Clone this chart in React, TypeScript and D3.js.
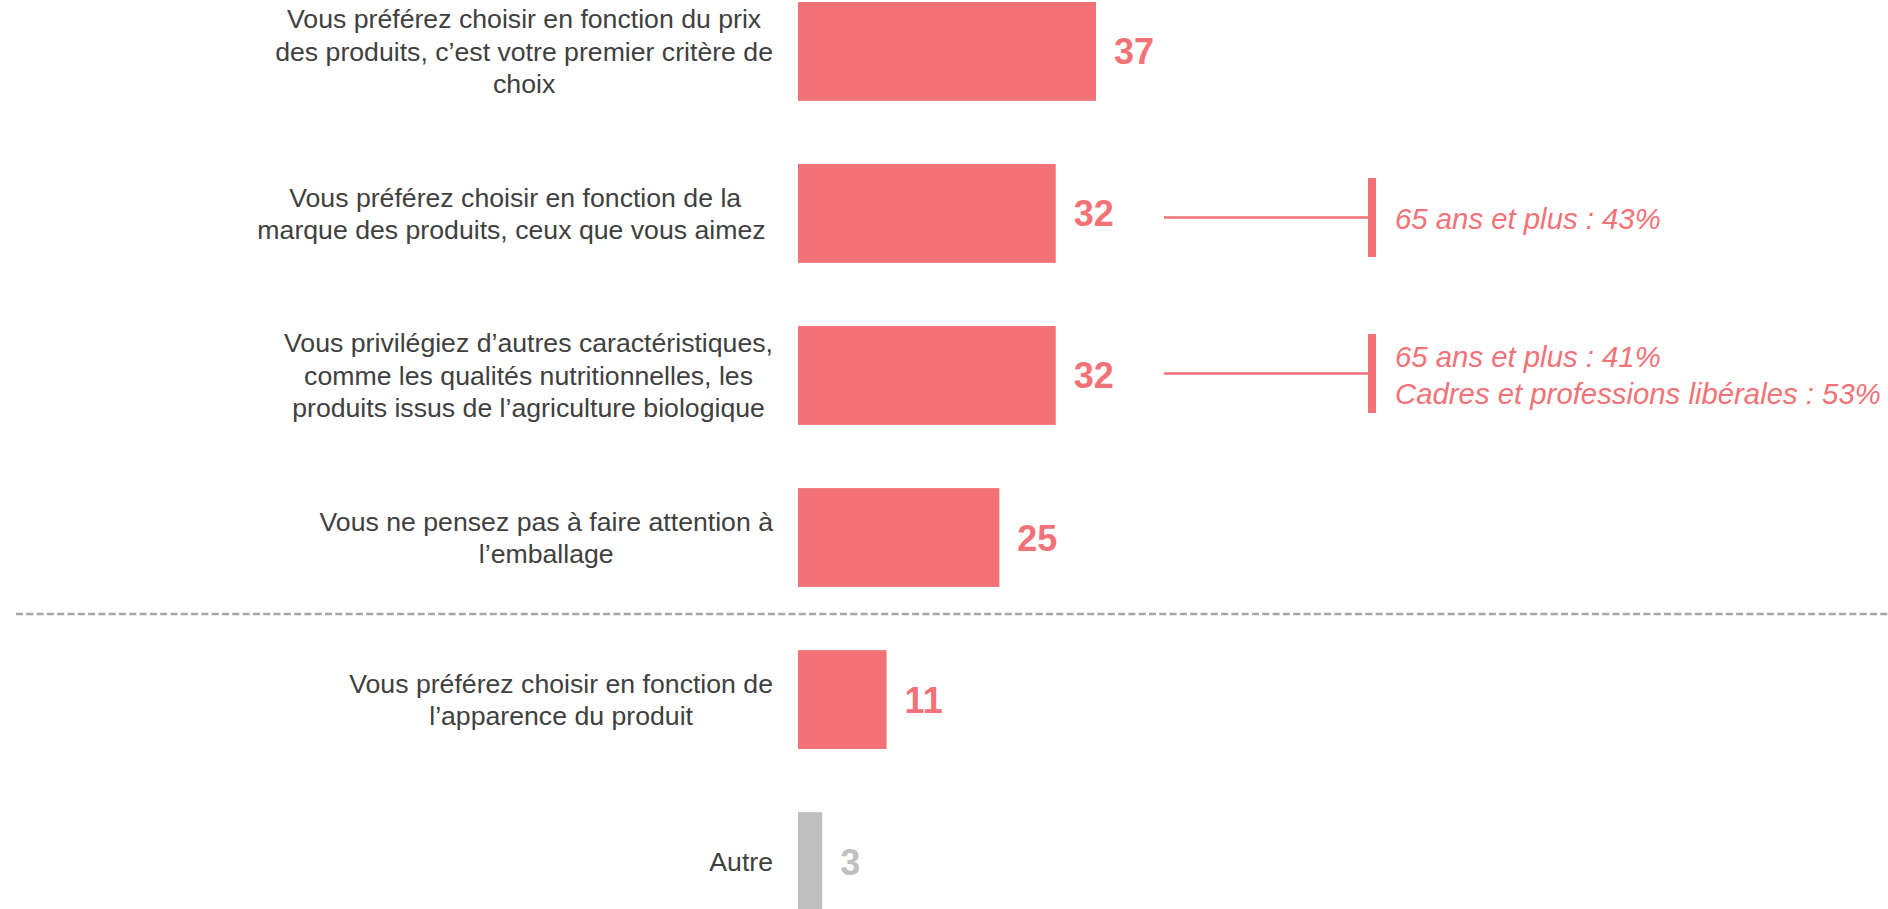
import React, { useEffect, useRef } from 'react';
import * as d3 from 'd3';

// category labels, already broken into lines as in the original slide
const labels: string[][] = [
  ['Vous préférez choisir en fonction du prix', 'des produits, c’est votre premier critère de', 'choix'],
  ['Vous préférez choisir en fonction de la', 'marque des produits, ceux que vous aimez '],
  ['Vous privilégiez d’autres caractéristiques,', 'comme les qualités nutritionnelles, les', 'produits issus de l’agriculture biologique'],
  ['Vous ne pensez pas à faire attention à', 'l’emballage'],
  ['Vous préférez choisir en fonction de', 'l’apparence du produit'],
  ['Autre'],
];
const values = [37, 32, 32, 25, 11, 3];
const isOther = [false, false, false, false, false, true];
// index of the bar -> annotation lines
const notes: { idx: number; lines: string[] }[] = [
  { idx: 1, lines: ['65 ans et plus : 43%'] },
  { idx: 2, lines: ['65 ans et plus : 41%', 'Cadres et professions libérales : 53%'] },
];

const W = 1888, H = 909;
const RED = '#F27277';
const GREY = '#BFBFBF';
const FONT = '"Liberation Sans", Arial, sans-serif';

export default function App() {
  const ref = useRef<SVGSVGElement>(null);

  useEffect(() => {
    document.body.style.margin = '0';
    const svg = d3.select(ref.current);
    svg.selectAll('*').remove();

    const idx = values.map((_, i) => i);
    const y = d3.scaleBand<number>()
      .domain(idx)
      .range([2, 911])
      .paddingInner(0.39)
      .paddingOuter(0);
    const x = d3.scaleLinear().domain([0, 37]).range([798, 1096]);
    const bw = y.bandwidth();
    const cy = (i: number) => (y(i) as number) + bw / 2;

    // bars
    svg.append('g').selectAll('rect').data(idx).join('rect')
      .attr('x', x(0))
      .attr('y', i => y(i) as number)
      .attr('width', i => x(values[i]) - x(0))
      .attr('height', bw)
      .attr('fill', i => isOther[i] ? GREY : RED);

    // value labels
    svg.append('g').selectAll('text').data(idx).join('text')
      .attr('x', i => x(values[i]) + 18)
      .attr('y', i => cy(i) + 13)
      .attr('font-family', FONT)
      .attr('font-size', 36)
      .attr('font-weight', 'bold')
      .attr('fill', i => isOther[i] ? GREY : RED)
      .text(i => values[i]);

    // category labels: block right-aligned, lines centered within the block
    const right = 773;
    const lh = 32.5;
    const fs = 26.67;
    idx.forEach(i => {
      const g = svg.append('g');
      const lines = labels[i];
      const n = lines.length;
      const texts = g.selectAll('text').data(lines).join('text')
        .attr('y', (_, k) => cy(i) + (k - (n - 1) / 2) * lh + fs * 0.35)
        .attr('font-family', FONT)
        .attr('font-size', fs)
        .attr('fill', '#404040')
        .attr('text-anchor', 'middle')
        .attr('xml:space', 'preserve')
        .style('white-space', 'pre')
        .text(d => d);
      let maxW = 0;
      texts.each(function () {
        maxW = Math.max(maxW, (this as SVGTextElement).getComputedTextLength());
      });
      texts.attr('x', right - maxW / 2);
    });

    // dashed separator between main answers and the rest
    const gapTop = (y(3) as number) + bw;
    const sepY = gapTop + ((y(4) as number) - gapTop) * 0.43;
    svg.append('line')
      .attr('x1', 16).attr('x2', W)
      .attr('y1', sepY).attr('y2', sepY)
      .attr('stroke', '#A6A6A6')
      .attr('stroke-width', 2.5)
      .attr('stroke-dasharray', '7 3.3');

    // annotations
    notes.forEach(nt => {
      const c = cy(nt.idx) + (nt.lines.length === 1 ? 4 : -2);
      svg.append('line')
        .attr('x1', 1164).attr('x2', 1370)
        .attr('y1', c).attr('y2', c)
        .attr('stroke', RED).attr('stroke-width', 2.5);
      svg.append('rect')
        .attr('x', 1368).attr('y', c - 39.5)
        .attr('width', 8).attr('height', 79)
        .attr('fill', RED);
      const n = nt.lines.length;
      svg.append('g').selectAll('text').data(nt.lines).join('text')
        .attr('x', 1395)
        .attr('y', (_, k) => c + (k - (n - 1) / 2) * 37 + (n === 1 ? 12 : 12))
        .attr('font-family', FONT)
        .attr('font-size', 29.33)
        .attr('font-style', 'italic')
        .attr('fill', RED)
        .text(d => d);
    });
  }, []);

  return <svg ref={ref} width={W} height={H} style={{ display: 'block' }} />;
}
